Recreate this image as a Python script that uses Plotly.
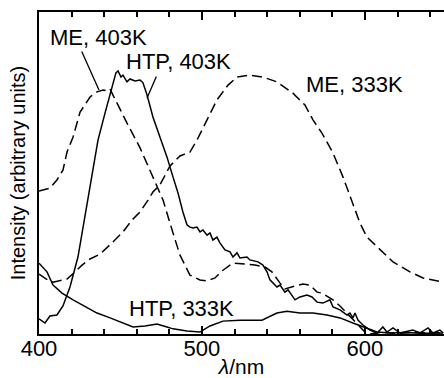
import plotly.graph_objects as go

# ---- data (wavelength nm, intensity arbitrary units) ----
me403_x = [400, 406.7, 411, 414.7, 417.2, 420.9, 425.2, 427, 431.3, 435.6, 439.3, 441.7, 443.6, 445.4,
           449.7, 454, 462, 469.9, 476.1, 482.2, 486.5, 492.6, 498.8, 503.1, 508, 512.3, 519, 526.4,
           532.5, 538.7, 542.9, 547.9, 550.9, 557.1, 562, 566.3, 570.6, 573.6, 580.4, 584.7, 589,
           593.9, 596.9, 600, 603, 610, 620, 630, 640, 648]
me403_y = [44.4, 45.3, 47.8, 50.9, 56.5, 61.2, 68.9, 70.2, 73.6, 75.2, 75.8, 75.5, 76.1, 74.2,
           69.6, 65.5, 57.8, 48.4, 41.6, 31.4, 24.5, 18.3, 16.8, 16.5, 17.4, 19.6, 22.0, 21.7,
           21.4, 20.8, 19.3, 15.8, 14.0, 14.9, 15.5, 15.2, 13.0, 12.7, 10.6, 8.7, 6.5,
           3.7, 2.2, 0.6, 0.0, 0.5, 0.2, 0.6, 0.3, 0.4]

me333_x = [400, 404.3, 408.6, 412.9, 417.2, 422.1, 426.4, 431.3, 437.4, 444.8, 451.5, 457.1, 462,
           466.9, 469.9, 474.2, 480.4, 486.5, 492.6, 496.9, 503.1, 509.2, 516, 521.5, 529.4, 537.4,
           546, 555.8, 563.2, 568.1, 573.6, 580.4, 586.5, 592, 596.9, 601.2, 609.2, 617.2, 627.6,
           635.6, 647.9]
me333_y = [18.6, 17.1, 16.1, 16.5, 17.1, 19.3, 21.4, 23.3, 24.8, 28.3, 31.7, 35.4, 37.9,
           41.6, 44.1, 46.3, 52.2, 55.3, 56.5, 60.2, 66.5, 72.7, 77.3, 79.8, 80.4, 79.8,
           78.3, 74.8, 71.1, 66.5, 62.4, 56.2, 48.8, 41.0, 34.5, 30.1, 26.1, 22.4, 19.3,
           17.4, 16.1]

htp403_x = [400, 403.7, 406.7, 411, 414.7, 419, 423.9, 427, 430.1, 433.1, 436.2, 440.5, 443.6, 445.4,
            447.2, 448.5, 450.3, 451.5, 454, 455.8, 458.9, 462, 463.8, 466.3, 469.9, 474.2, 478.5,
            482.2, 485.3, 488.3, 490.8, 492.6, 494.5, 496.9, 498.8, 500.6, 503.1, 504.9, 506.7,
            509.2, 511, 514.1, 517.2, 519, 521.5, 523.3, 527.6, 529.4, 534.4, 537.4, 539.9, 541.7,
            546, 547.9, 550.9, 552.8, 557.1, 560.1, 564.4, 567.5, 570.6, 574.2, 578.5, 580.4,
            584.7, 589, 590.8, 592.6, 593.9, 595.7, 598.8, 603.1, 607.4, 611, 613.5, 617.2, 621.5,
            629.4, 633.7, 638.7, 641.7, 646, 648]
htp403_y = [4.7, 3.4, 5.6, 5.9, 8.7, 14.6, 23.9, 33.2, 41.6, 51.9, 60.2, 68.6, 74.8, 78.3,
            81.1, 81.7, 79.8, 80.4, 78.3, 79.2, 78.6, 78.9, 78.0, 74.2, 67.4, 61.2, 55.0,
            48.8, 43.8, 37.9, 33.9, 33.2, 32.9, 33.2, 31.7, 32.3, 30.7, 31.4, 29.2,
            30.1, 28.3, 26.1, 25.5, 23.9, 25.2, 23.6, 23.9, 23.0, 22.4, 21.4, 19.3, 16.8,
            14.6, 15.2, 13.0, 13.7, 10.6, 11.5, 12.1, 11.5, 9.9, 9.6, 10.6, 8.4,
            7.5, 5.9, 6.5, 5.0, 6.5, 4.3, 2.8, 1.2, 0.3, 2.2, 0.6, 1.9, 0.3,
            1.2, 0.3, 1.9, 0.3, 1.2, 0.3]

htp333_x = [400, 404.9, 408.6, 414.1, 420.9, 427, 435.6, 443.6, 451.5, 457.7, 465, 472.4, 478.5,
            482.2, 490.8, 498.8, 504.9, 512.9, 523.3, 536.8, 546, 552.1, 560.1, 568.1, 576.7,
            584.7, 592.6, 601.2, 607.4, 615.3, 625, 635, 648]
htp333_y = [22.0, 19.3, 15.2, 12.7, 10.6, 9.0, 6.5, 5.0, 3.4, 2.2, 2.5, 3.1, 2.2,
            1.6, 0.9, 0.6, 2.5, 4.0, 4.3, 4.3, 6.5, 7.1, 6.5, 6.5, 5.9,
            5.0, 3.4, 1.9, 0.6, 0.3, 0.5, 0.2, 0.3]

labels = ["ME, 403K", "HTP, 403K", "ME, 333K", "HTP, 333K"]
label_x = [436.2, 485.6, 593.6, 487.7]
label_y = [92.2, 84.6, 77.6, 7.9]
# leader lines: (start x, start y) -> (end x, end y)
lead_from = [(425.8, 88.2), (472.4, 80.4)]
lead_to = [(436.8, 75.8), (466.3, 73.3)]

FONT = "Liberation Sans, Arial, Helvetica, sans-serif"

fig = go.Figure()
line_w = 1.5
DASH = "10px,5px"
fig.add_trace(go.Scatter(x=me403_x, y=me403_y, mode="lines",
                         line=dict(color="black", width=line_w, dash=DASH)))
fig.add_trace(go.Scatter(x=me333_x, y=me333_y, mode="lines",
                         line=dict(color="black", width=line_w, dash=DASH)))
fig.add_trace(go.Scatter(x=htp403_x, y=htp403_y, mode="lines",
                         line=dict(color="black", width=line_w)))
fig.add_trace(go.Scatter(x=htp333_x, y=htp333_y, mode="lines",
                         line=dict(color="black", width=line_w)))
# invisible trace bound to an overlay axis that carries the tick marks
fig.add_trace(go.Scatter(x=[400, 648.5], y=[0, 0], mode="lines", xaxis="x2",
                         line=dict(color="rgba(0,0,0,0)"), hoverinfo="skip"))

for t, lx, ly in zip(labels, label_x, label_y):
    fig.add_annotation(x=lx, y=ly, text=t, showarrow=False,
                       font=dict(family=FONT, size=22, color="black"))
for (x0, y0), (x1, y1) in zip(lead_from, lead_to):
    fig.add_annotation(x=x1, y=y1, ax=x0, ay=y0, axref="x", ayref="y",
                       text="", showarrow=True, arrowhead=0, arrowwidth=1.3,
                       arrowcolor="black", standoff=0, startstandoff=0)

fig.update_layout(
    width=444, height=378,
    margin=dict(l=39, r=0, t=12, b=44),
    plot_bgcolor="white", paper_bgcolor="white",
    showlegend=False,
    xaxis=dict(range=[400, 648.5], tickmode="linear", tick0=400, dtick=100,
               ticks="inside", ticklen=8, tickwidth=2, tickcolor="black",
               minor=dict(dtick=20, ticks="inside", ticklen=5, tickwidth=1.5,
                          tickcolor="black"),
               showline=True, linecolor="black", linewidth=1.5, mirror="allticks",
               showgrid=False, zeroline=False, automargin=False,
               ticklabelstandoff=-6,
               tickfont=dict(family=FONT, size=22, color="black"),
               title=dict(text="<i>λ</i>/nm", font=dict(family=FONT, size=21, color="black"),
                          standoff=6)),
    xaxis2=dict(range=[400, 648.5], overlaying="x", anchor="y", side="bottom",
                tickmode="linear", tick0=400, dtick=100,
                ticks="inside", ticklen=8, tickwidth=2, tickcolor="black",
                minor=dict(dtick=20, ticks="inside", ticklen=5, tickwidth=1.5,
                           tickcolor="black"),
                showticklabels=False, showline=False, mirror="allticks",
                showgrid=False, zeroline=False, automargin=False),
    yaxis=dict(range=[0, 100], showticklabels=False, ticks="",
               showline=True, linecolor="black", linewidth=1.5,
               showgrid=False, zeroline=False, automargin=False,
               title=dict(text="Intensity (arbitrary units)",
                          font=dict(family=FONT, size=20, color="black"), standoff=6)),
)

fig.write_html("out.html")
